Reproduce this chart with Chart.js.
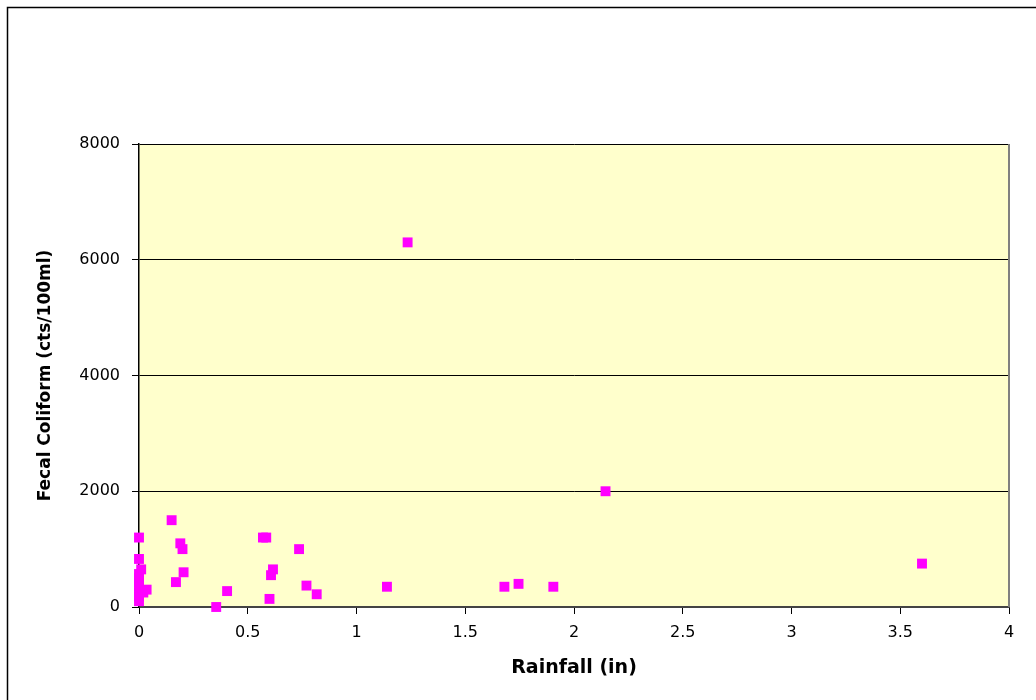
<!DOCTYPE html>
<html>
<head>
<meta charset="utf-8">
<script src="https://cdn.jsdelivr.net/npm/chart.js@4"></script>
<style>
  body { margin: 0; background: #fff; }
  #wrap { width: 1036px; height: 700px; position: relative; }
</style>
</head>
<body>
<div id="wrap"><canvas id="chart"></canvas></div>
<script>
// rainfall (in) vs fecal coliform (cts/100ml)
const rainfall = [
  0, 0, 0, 0, 0, 0, 0, 0, 0, 0.01, 0.02, 0.035,
  0.15, 0.17, 0.19, 0.2, 0.205, 0.355, 0.405,
  0.57, 0.585, 0.6, 0.607, 0.616, 0.736, 0.77, 0.817,
  1.14, 1.235, 1.68, 1.745, 1.905, 2.145, 3.6
];
const coliform = [
  1200, 830, 570, 500, 420, 350, 250, 180, 100, 650, 250, 300,
  1500, 430, 1100, 1000, 600, 0, 275,
  1200, 1200, 140, 550, 650, 1000, 370, 220,
  350, 6300, 350, 400, 350, 2000, 750
];
const xTicks = [0, 0.5, 1, 1.5, 2, 2.5, 3, 3.5, 4];
const yTicks = [0, 2000, 4000, 6000, 8000];

const points = rainfall.map((x, i) => ({ x: x, y: coliform[i] }));

// plot background, right edge and the outer frame
const framePlugin = {
  id: 'frame',
  beforeDraw(chart) {
    const { ctx, chartArea: a } = chart;
    ctx.save();
    ctx.fillStyle = '#FFFFCC';
    ctx.fillRect(a.left, a.top, a.right - a.left, a.bottom - a.top);
    ctx.restore();
  },
  afterDraw(chart) {
    const { ctx, chartArea: a } = chart;
    ctx.save();
    ctx.strokeStyle = '#808080';
    ctx.lineWidth = 2;
    ctx.beginPath();
    ctx.moveTo(a.right, a.top);
    ctx.lineTo(a.right, a.bottom);
    ctx.stroke();
    ctx.strokeStyle = '#000';
    ctx.lineWidth = 1.5;
    ctx.beginPath();
    ctx.moveTo(7.5, chart.height + 5);
    ctx.lineTo(7.5, 7.5);
    ctx.lineTo(chart.width + 5, 7.5);
    ctx.stroke();
    ctx.restore();
  }
};

Chart.defaults.font.family = '"DejaVu Sans", "Liberation Sans", Arial, sans-serif';
Chart.defaults.color = '#000';

new Chart(document.getElementById('chart'), {
  type: 'scatter',
  data: {
    datasets: [{
      label: 'Fecal Coliform',
      data: points,
      pointStyle: 'rect',
      pointRadius: 7,
      pointHoverRadius: 7,
      borderWidth: 0,
      backgroundColor: '#FF00FF',
      borderColor: '#FF00FF',
      clip: false
    }]
  },
  options: {
    responsive: true,
    maintainAspectRatio: false,
    animation: false,
    layout: { padding: { top: 144, right: 27, left: 0, bottom: 0 } },
    plugins: {
      legend: { display: false },
      tooltip: { enabled: false }
    },
    scales: {
      x: {
        type: 'linear',
        min: 0,
        max: 4,
        afterFit: s => { s.height = 93; },
        afterBuildTicks: s => { s.ticks = xTicks.map(v => ({ value: v })); },
        ticks: {
          padding: 9,
          font: { size: 16 },
          callback: v => String(v)
        },
        grid: {
          drawOnChartArea: false,
          drawTicks: true,
          tickLength: 7,
          tickColor: '#000'
        },
        border: { color: '#444', width: 2 },
        title: {
          display: true,
          text: 'Rainfall (in)',
          font: { size: 19, weight: 'bold' },
          padding: { top: 0, bottom: 21 }
        }
      },
      y: {
        type: 'linear',
        min: 0,
        max: 8000,
        afterFit: s => { s.width = 139; },
        afterBuildTicks: s => { s.ticks = yTicks.map(v => ({ value: v })); },
        ticks: {
          padding: 12,
          font: { size: 16 },
          callback: v => String(v)
        },
        grid: {
          color: '#000',
          lineWidth: 1,
          drawTicks: true,
          tickLength: 7,
          tickColor: '#000'
        },
        border: { color: '#000', width: 1.5 },
        title: {
          display: true,
          text: 'Fecal Coliform (cts/100ml)',
          font: { size: 17, weight: 'bold' },
          padding: { top: 35, bottom: 0 }
        }
      }
    }
  },
  plugins: [framePlugin]
});
</script>
</body>
</html>
